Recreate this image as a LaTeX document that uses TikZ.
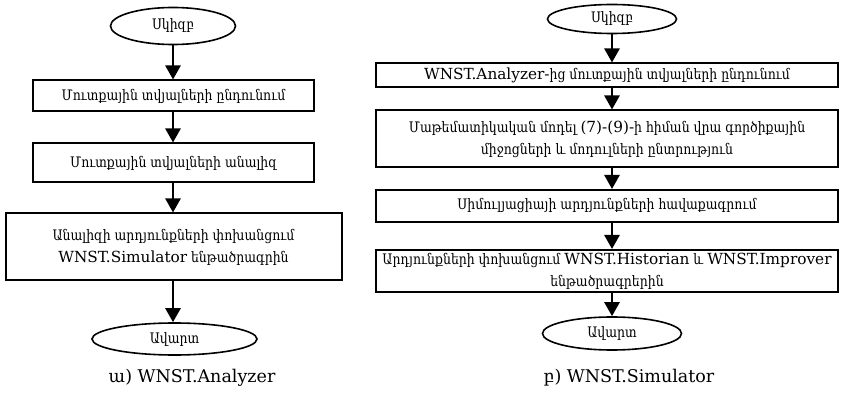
\documentclass[tikz,border=0pt]{standalone}
\usepackage{fontspec}
\setmainfont{DejaVu Serif}[FakeStretch=0.86]
\newfontfamily\latfont{DejaVu Serif}
\usetikzlibrary{arrows.meta,shapes.geometric}
\newcommand\latn[1]{{\latfont\fontsize{15.3}{22}\selectfont #1}}

\begin{document}
\begin{tikzpicture}[x=1pt,y=-1pt,
  every node/.style={font=\fontsize{14.5}{22}\selectfont},
  blk/.style={draw,line width=2pt,inner sep=1pt,align=center},
  term/.style={draw,ellipse,line width=1.6pt,inner sep=0pt},
  subcap/.style={font=\latfont\fontsize{17.5}{20}\selectfont},
  flw/.style={line width=2.6pt,-{Triangle[width=15pt,length=14pt]}}]
  \useasboundingbox (0,0) rectangle (841,398);

     %a) analyzer
  \node[term,minimum width=125,minimum height=37] (aS) at (173,26) {Սկիզբ};
  \node[blk,minimum width=281,minimum height=31] (aA) at (173.5,96) {Մուտքային տվյալների ընդունում};
  \node[blk,minimum width=281,minimum height=39] (aB) at (173.5,163) {Մուտքային տվյալների անալիզ};
  \node[blk,minimum width=336,minimum height=67] (aC) at (173.5,247) {Անալիզի արդյունքների փոխանցում\\\latn{WNST.Simulator} ենթածրագրին};
  \node[term,minimum width=165,minimum height=32] (aE) at (174.5,339) {Ավարտ};
  \node[subcap] (aT) at (192,378) {ա) WNST.Analyzer};
  \draw[flw] (aS) -- (aS |- aA.north);
  \draw[flw] (aA.south -| aS) -- (aB.north -| aS);
  \draw[flw] (aB.south -| aS) -- (aC.north -| aS);
  \draw[flw] (aC.south -| aS) -- (aE.north -| aS);

%b) simulator
  \node[term,minimum width=129,minimum height=29] (bS) at (612,19) {Սկիզբ};
  \node[blk,minimum width=462,minimum height=24] (bA) at (607,75.5) {\latn{WNST.Analyzer-}ից մուտքային տվյալների ընդունում};
  \node[blk,minimum width=462,minimum height=57] (bB) at (607,139) {Մաթեմատիկական մոդել \latn{(7)-(9)-}ի հիման վրա գործիքային\\միջոցների և մոդուլների ընտրություն};
  \node[blk,minimum width=462,minimum height=32] (bC) at (607,206) {Սիմուլյացիայի արդյունքների հավաքագրում};
  \node[blk,minimum width=462,minimum height=42] (bD) at (607,271) {Արդյունքների փոխանցում \latn{WNST.Historian} և \latn{WNST.Improver}\\ենթածրագրերին};
  \node[term,minimum width=139,minimum height=33] (bE) at (612,333.5) {Ավարտ};
  \node[subcap] (bT) at (629,378) {բ) WNST.Simulator};
  \draw[flw] (bS) -- (bS |- bA.north);
  \draw[flw] (bA.south -| bS) -- (bB.north -| bS);
  \draw[flw] (bB.south -| bS) -- (bC.north -| bS);
  \draw[flw] (bC.south -| bS) -- (bD.north -| bS);
  \draw[flw] (bD.south -| bS) -- (bE.north -| bS);

\end{tikzpicture}
\end{document}
